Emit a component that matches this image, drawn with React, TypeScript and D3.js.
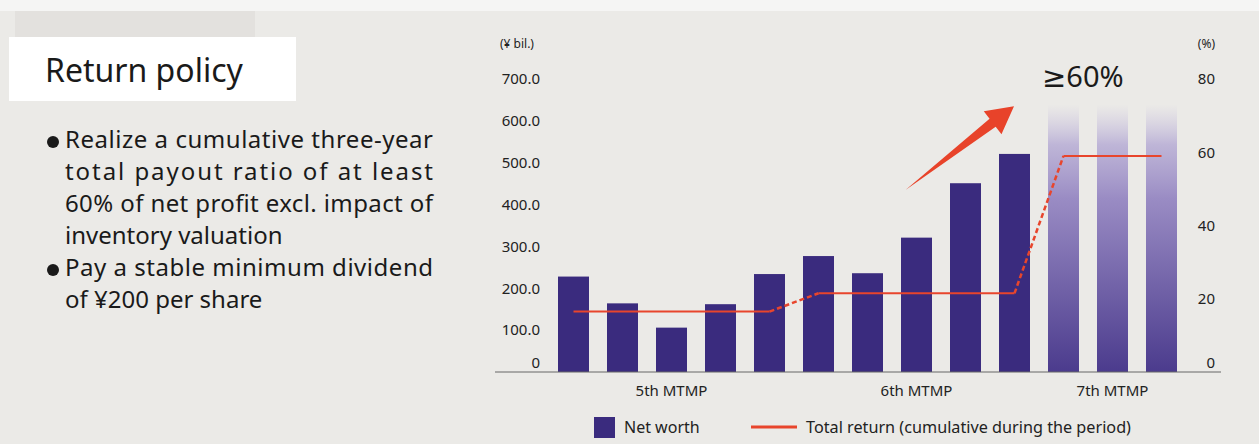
import React from 'react';
import * as d3 from 'd3';

// data
const periods = ['5th MTMP', '6th MTMP', '7th MTMP'];
const barPeriod = [0, 0, 0, 0, 0, 1, 1, 1, 1, 1, 2, 2, 2];
const netWorth = [228, 164, 106, 162, 234, 277, 236, 321, 451, 521, 620, 620, 620];
const projected = [false, false, false, false, false, false, false, false, false, false, true, true, true];
const totalReturn = [16.5, 16.5, 16.5, 16.5, 16.5, 21.5, 21.5, 21.5, 21.5, 21.5, 59, 59, 59];
const leftTicks = [0, 100, 200, 300, 400, 500, 600, 700];
const rightTicks = [0, 20, 40, 60, 80];

const bullets = [
  ['Realize a cumulative three-year', 'total payout ratio of at least', '60% of net profit excl. impact of', 'inventory valuation'],
  ['Pay a stable minimum dividend', 'of ¥200 per share'],
];

const W = 1259;
const H = 444;
const FONT = '"Noto Sans", "DejaVu Sans", sans-serif';
const BAR = '#3a2b7e';
const RED = '#e8452c';

export default function App() {
  const idx = netWorth.map((_, i) => i);
  const x = d3.scaleBand<number>().domain(idx).range([549, 1186]).paddingInner(18 / 49).paddingOuter(9 / 49);
  const y = d3.scaleLinear().domain([0, 700]).range([372, 79]);
  const yr = d3.scaleLinear().domain([0, 80]).range([372, 79]);
  const cx = (i: number) => (x(i) as number) + x.bandwidth() / 2;

  // line pieces: solid inside a period, dashed between periods
  const line = d3.line<number>().x(i => cx(i)).y(i => yr(totalReturn[i]));
  const solid: number[][] = [];
  const dashed: number[][] = [];
  periods.forEach((_, p) => {
    const ids = idx.filter(i => barPeriod[i] === p);
    solid.push(ids);
    if (p > 0) dashed.push([ids[0] - 1, ids[0]]);
  });

  const periodCenter = (p: number) => {
    const ids = idx.filter(i => barPeriod[i] === p);
    return d3.mean(ids, cx) as number;
  };

  // arrow annotation
  const tail: [number, number] = [cx(7) - 11, y(435)];
  const tip: [number, number] = [cx(9) - 0.5, y(635)];
  const dx = tip[0] - tail[0], dy = tip[1] - tail[1];
  const len = Math.hypot(dx, dy);
  const u = [dx / len, dy / len];
  const n = [-u[1], u[0]];
  const b = [tip[0] - 27 * u[0], tip[1] - 27 * u[1]];
  const pt = (p: number[], k: number) => `${p[0] + k * n[0]},${p[1] + k * n[1]}`;
  const arrowPath = `M${tail[0]},${tail[1]} L${pt(b, 5)} L${pt(b, 14.5)} L${tip[0]},${tip[1]} L${pt(b, -14.5)} L${pt(b, -5)} Z`;

  return (
    <svg width={W} height={H} style={{ position: 'absolute', left: 0, top: 0 }} fontFamily={FONT}>
      <defs>
        <linearGradient id="proj" x1="0" y1="0" x2="0" y2="1">
          <stop offset="0" stopColor="#c4bbdd" stopOpacity="0" />
          <stop offset="0.15" stopColor="#b3a8d3" stopOpacity="0.8" />
          <stop offset="0.35" stopColor="#9a8cc4" />
          <stop offset="1" stopColor="#4b3b8d" />
        </linearGradient>
      </defs>
      <rect width={W} height={H} fill="#ebeae7" />
      <rect width={W} height={11} fill="#f5f5f4" />
      <rect x={15} y={11} width={240} height={26} fill="#e3e1de" />
      <rect x={9} y={37} width={287} height={64} fill="#ffffff" />
      <text x={45} y={82} fontSize={32} fill="#1a1a1a">Return policy</text>

      {bullets.map((lines, bi) => {
        const start = bi === 0 ? 0 : bullets[0].length;
        return (
          <g key={bi}>
            <circle cx={53} cy={148 + start * 32 - 6} r={6} fill="#1a1a1a" />
            {lines.map((t, li) => (
              <text
                key={li}
                x={65}
                y={148 + (start + li) * 32}
                fontSize={24}
                fill="#1a1a1a"
                {...(li < lines.length - 1 ? { textLength: 368, lengthAdjust: 'spacing' } : {})}
              >
                {t}
              </text>
            ))}
          </g>
        );
      })}

      {/* axes labels */}
      <text x={500} y={48} fontSize={12} fill="#222">(¥ bil.)</text>
      <text x={1215} y={48} fontSize={12} fill="#222" textAnchor="end">(%)</text>
      {leftTicks.map(t => (
        <text key={t} x={540} y={y(t) - (t === 0 ? 9 : 0)} dy="0.35em" fontSize={15} fill="#222" textAnchor="end">
          {t === 0 ? '0' : d3.format('.1f')(t)}
        </text>
      ))}
      {rightTicks.map(t => (
        <text key={t} x={1215} y={yr(t) - (t === 0 ? 9 : 0)} dy="0.35em" fontSize={15} fill="#222" textAnchor="end">
          {t}
        </text>
      ))}

      {/* bars */}
      {idx.map(i => (
        <rect
          key={i}
          x={x(i)}
          y={y(netWorth[i]) - (projected[i] ? 8 : 0)}
          width={x.bandwidth()}
          height={y(0) - y(netWorth[i]) + (projected[i] ? 8 : 0)}
          fill={projected[i] ? 'url(#proj)' : BAR}
        />
      ))}
      <line x1={495} x2={1221} y1={y(0)} y2={y(0)} stroke="#666" strokeWidth={1} />

      {/* total return line */}
      {solid.map((s, k) => (
        <path key={'s' + k} d={line(s) as string} fill="none" stroke={RED} strokeWidth={2} />
      ))}
      {dashed.map((s, k) => (
        <path key={'d' + k} d={line(s) as string} fill="none" stroke={RED} strokeWidth={2.5} strokeDasharray="5 3" />
      ))}

      {/* annotation */}
      <path d={arrowPath} fill="#e8432a" />
      <text x={1042} y={87} fontSize={29} fill="#1a1a1a">≥60%</text>

      {/* period labels */}
      {periods.map((p, k) => (
        <text key={p} x={periodCenter(k)} y={396} fontSize={15} fill="#222" textAnchor="middle">{p}</text>
      ))}

      {/* legend */}
      <rect x={594} y={417} width={21} height={21} fill={BAR} />
      <text x={624} y={433} fontSize={16} fill="#222">Net worth</text>
      <line x1={751} x2={797} y1={427} y2={427} stroke={RED} strokeWidth={3} />
      <text x={806} y={433} fontSize={16} fill="#222" textLength={325} lengthAdjust="spacingAndGlyphs">
        Total return (cumulative during the period)
      </text>
    </svg>
  );
}
